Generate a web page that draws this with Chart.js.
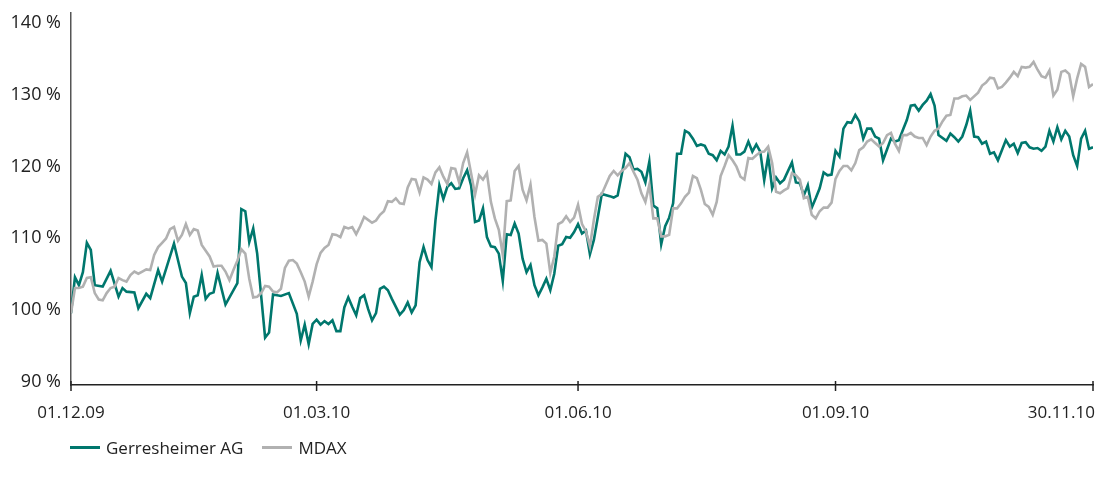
<!DOCTYPE html>
<html>
<head>
<meta charset="utf-8">
<script src="https://cdn.jsdelivr.net/npm/chart.js@4.4.0/dist/chart.umd.min.js"></script>
<style>
  html, body { margin: 0; padding: 0; background: #fff; }
  #wrap { position: relative; width: 1096px; height: 484px; }
  #legend { position: absolute; left: 70px; top: 436px; display: flex; align-items: center;
            font: 17px 'Open Sans', sans-serif; color: #222; }
  .item { display: flex; align-items: center; margin-right: 19px; }
  .swatch { display: inline-block; width: 30px; height: 3px; margin-right: 6px; }
</style>
</head>
<body>
<div id="wrap">
  <canvas id="chart" width="1096" height="484"></canvas>
  <div id="legend"></div>
</div>
<script>
// trading day index since 01.12.09, indexed performance in %
const gerDays = [0,1,2,3,4,5,6,8,10,12,13,14,16,17,19,20,22,23,26,28,29,30,31,32,33,34,35,36,37,39,
  42,43,44,45,46,47,49,50,51,53,55,57,58,59,60,61,62,63,64,65,66,67,68,69,70,71,72,73,74,75,76,77,78,79,80,81,
  83,84,85,86,87,88,89,90,91,92,93,94,95,96,97,98,99,100,101,102,103,104,105,106,107,108,109,110,111,112,113,114,
  115,116,117,118,119,120,121,122,123,124,125,126,127,128,129,130,131,132,133,134,136,137,138,139,140,141,142,143,
  144,145,146,147,148,149,150,151,152,153,154,155,156,157,158,159,160,161,162,163,164,165,166,167,168,169,170,171,
  172,173,174,175,176,177,178,179,180,182,183,184,185,186,187,188,189,190,191,192,193,194,195,196,197,198,199,200,
  201,202,203,204,205,206,207,208,209,210,211,212,213,214,215,216,217,218,219,221,222,223,224,225,226,227,228,229,
  230,231,232,233,234,235,236,237,238,239,240,241,242,243,244,245,246,247,248,249,250,251,252,253,254,255,256,257,258]
const gerVals = [100.0,105.0,103.9,105.7,109.8,108.8,103.9,103.7,105.9,102.3,103.5,103.0,102.9,100.7,102.7,102.1,106.0,104.4,109.7,105.1,104.2,100.0,102.3,102.5,105.3,102.0,102.7,102.9,105.6,101.2,
  104.2,114.5,114.2,109.9,111.8,108.3,96.6,97.3,102.6,102.4,102.8,99.9,96.2,98.4,95.7,98.5,99.1,98.4,98.9,98.5,99.0,97.5,97.5,100.8,102.2,100.9,99.7,102.1,102.5,100.6,99.0,100.0,103.4,103.7,103.2,102.0,
  99.8,100.4,101.5,100.1,101.1,107.1,109.2,107.4,106.4,112.9,117.8,115.9,117.6,118.1,117.3,117.4,118.8,119.9,117.8,112.7,112.9,114.6,110.6,109.3,109.2,108.3,104.5,111.0,110.9,112.5,111.1,107.6,
  105.7,106.7,103.9,102.5,103.6,104.8,103.2,105.5,109.4,109.6,110.6,110.5,111.3,112.4,111.1,111.5,108.2,110.2,113.4,116.6,116.3,116.1,116.4,119.2,122.2,121.7,120.0,120.1,
  119.7,118.2,121.1,115.0,114.6,109.6,112.1,113.3,115.3,122.2,122.2,125.4,125.1,124.3,123.3,123.5,123.3,122.2,122.0,121.3,122.6,122.1,123.2,126.1,122.1,122.1,122.5,123.9,
  122.5,123.5,122.5,118.5,121.9,117.4,118.9,118.1,118.6,121.0,118.2,118.1,116.4,117.8,114.7,116.0,117.4,119.6,119.2,119.3,122.6,121.8,125.7,126.6,126.5,127.6,126.7,124.3,
  125.7,125.7,124.6,124.3,121.3,122.8,124.3,123.9,124.1,125.5,126.9,128.9,129.0,128.2,129.0,129.6,130.5,128.9,124.8,124.0,125.0,124.5,123.9,124.6,126.2,128.2,124.6,124.5,
  123.6,123.9,122.2,122.4,121.3,122.7,124.1,123.2,123.6,122.3,123.7,123.8,123.1,122.9,123.0,122.6,123.2,125.4,123.9,125.9,124.2,125.4,124.6,122.0,120.5,124.3,125.4,122.9,123.1]

const mdaxDays = [0,1,2,3,4,5,6,7,8,9,10,11,12,13,14,15,16,17,18,19,20,21,22,23,24,25,26,27,28,29,30,31,32,33,
  35,36,37,38,39,40,41,42,43,44,45,46,47,48,49,50,51,52,53,54,55,56,57,58,59,60,61,62,63,64,65,66,67,68,69,70,
  71,72,73,74,75,76,77,78,79,80,81,82,83,84,85,86,87,88,89,90,91,92,93,94,95,96,97,98,99,100,101,102,103,104,105,
  106,107,108,109,110,111,112,113,114,115,116,117,118,119,120,121,122,123,124,125,126,127,128,129,130,131,132,133,134,
  136,137,138,139,140,141,142,143,144,145,146,147,148,149,150,151,152,153,154,155,156,157,158,159,160,161,162,163,
  164,165,166,167,168,169,170,171,172,173,174,175,176,177,178,179,180,181,182,183,184,185,186,187,188,189,190,191,
  192,193,194,195,196,197,198,199,200,201,202,203,204,205,206,207,208,209,210,211,212,213,214,215,216,217,218,219,
  220,221,222,223,224,225,226,227,229,230,231,232,233,234,235,236,237,238,239,240,241,242,243,244,245,246,247,248,
  249,250,251,252,253,254,255,256,257,258]
const mdaxVals = [100.0,103.5,103.5,103.7,104.9,105.0,102.8,101.9,101.8,102.8,103.5,103.7,104.9,104.6,104.4,105.3,105.8,105.5,105.8,106.1,106.0,108.1,109.2,109.8,110.4,111.7,112.0,110.1,110.9,112.4,110.9,111.7,111.5,109.5,
  107.9,106.5,106.6,106.6,105.8,104.6,106.0,107.3,108.9,108.3,104.8,102.2,102.3,102.8,103.8,103.7,103.0,102.9,103.4,106.3,107.3,107.4,106.9,105.7,104.4,102.3,104.4,106.8,108.4,109.1,109.5,111.0,110.9,110.6,112.0,111.8,
  112.0,111.0,112.1,113.4,113.0,112.6,112.9,113.7,114.2,115.6,115.5,116.0,115.3,115.2,117.5,118.7,118.6,116.8,118.9,118.6,118.0,119.6,120.3,119.0,118.0,120.2,120.1,118.2,120.9,122.4,119.5,116.5,119.2,118.6,119.5,
  115.5,113.2,111.6,108.1,115.6,115.7,119.8,120.5,117.2,115.7,117.9,113.4,110.1,110.2,109.7,105.6,107.9,112.4,112.7,113.5,112.7,113.3,115.1,112.4,111.4,109.3,113.0,116.2,116.6,
  119.1,119.8,119.2,119.8,120.2,120.9,119.7,118.6,116.7,115.5,117.9,113.2,113.2,110.7,110.7,110.9,114.6,114.6,115.3,116.2,116.8,119.1,118.8,117.2,115.2,114.8,113.7,115.5,
  119.1,120.5,122.0,121.3,120.4,119.0,118.6,121.6,121.5,122.0,122.4,122.5,123.2,120.9,116.9,116.7,117.1,117.4,119.5,119.2,118.6,116.0,116.2,113.7,113.2,114.2,114.7,114.7,
  115.4,118.7,119.8,120.5,120.5,119.9,120.9,122.7,123.1,123.9,124.2,123.7,123.2,123.7,124.8,125.1,123.6,122.6,124.8,124.8,125.1,124.6,124.4,124.4,123.4,124.6,125.4,125.7,
  126.7,127.5,127.6,129.9,129.9,130.2,130.3,129.7,130.7,131.7,132.1,132.8,132.7,131.3,131.5,132.1,132.8,133.6,133.0,134.3,134.2,134.3,135.0,133.9,133.0,132.8,133.8,130.3,
  131.1,133.6,133.8,133.3,130.2,132.7,134.7,134.3,131.5,131.9]

const tickDays = [0, 62, 128, 193, 258]
const tickLabels = ['01.12.09', '01.03.10', '01.06.10', '01.09.10', '30.11.10']
const yTicks = [90, 100, 110, 120, 130, 140]

const TEAL = '#00776d'
const GREY = '#b1b1b1'
const FONT = "'Open Sans', sans-serif"

const xAxisDeco = {
  id: 'xAxisDeco',
  afterDraw(chart) {
    const { ctx, chartArea, scales: { x } } = chart
    const y0 = chartArea.bottom
    ctx.save()
    ctx.strokeStyle = '#222'
    ctx.lineWidth = 1.5
    ctx.fillStyle = '#222'
    ctx.font = '17px ' + FONT
    ctx.textBaseline = 'middle'
    tickDays.forEach((d, i) => {
      const px = x.getPixelForValue(d)
      ctx.beginPath()
      ctx.moveTo(px, y0 - 4)
      ctx.lineTo(px, y0 + 6)
      ctx.stroke()
      const last = i === tickDays.length - 1
      ctx.textAlign = last ? 'right' : 'center'
      ctx.fillText(tickLabels[i], last ? px + 2 : px, y0 + 28)
    })
    ctx.restore()
  }
}

const series = [
  { label: 'Gerresheimer AG', days: gerDays, vals: gerVals, color: TEAL },
  { label: 'MDAX', days: mdaxDays, vals: mdaxVals, color: GREY },
]

const chart = new Chart(document.getElementById('chart'), {
  type: 'line',
  data: {
    datasets: series.slice().reverse().map(s => ({
      label: s.label,
      data: s.days.map((d, i) => ({ x: d, y: s.vals[i] })),
      borderColor: s.color,
      borderWidth: 2.6,
      pointRadius: 0,
      tension: 0,
      fill: false,
    })),
  },
  options: {
    responsive: false,
    animation: false,
    layout: { padding: { top: 13, right: 3, bottom: 99, left: 0 } },
    plugins: { legend: { display: false }, tooltip: { enabled: false } },
    scales: {
      x: {
        type: 'linear', min: 0, max: 258,
        grid: { display: false, drawTicks: false },
        border: { display: true, color: '#222', width: 1.5 },
        ticks: { display: false },
      },
      y: {
        min: 90, max: 141.8,
        afterBuildTicks: s => { s.ticks = yTicks.map(v => ({ value: v })) },
        afterFit: s => { s.width = 71; s.paddingTop = 0; s.paddingBottom = 0 },
        grid: { display: false, drawTicks: false },
        border: { display: true, color: '#555', width: 1.5 },
        ticks: { padding: 10, labelOffset: -3, color: '#222', font: { family: FONT, size: 18 },
                 callback: v => v + ' %' },
      },
    },
  },
  plugins: [xAxisDeco],
})

document.getElementById('legend').innerHTML = series.map(s =>
  `<span class="item"><span class="swatch" style="background:${s.color}"></span>${s.label}</span>`).join('')
</script>
</body>
</html>
